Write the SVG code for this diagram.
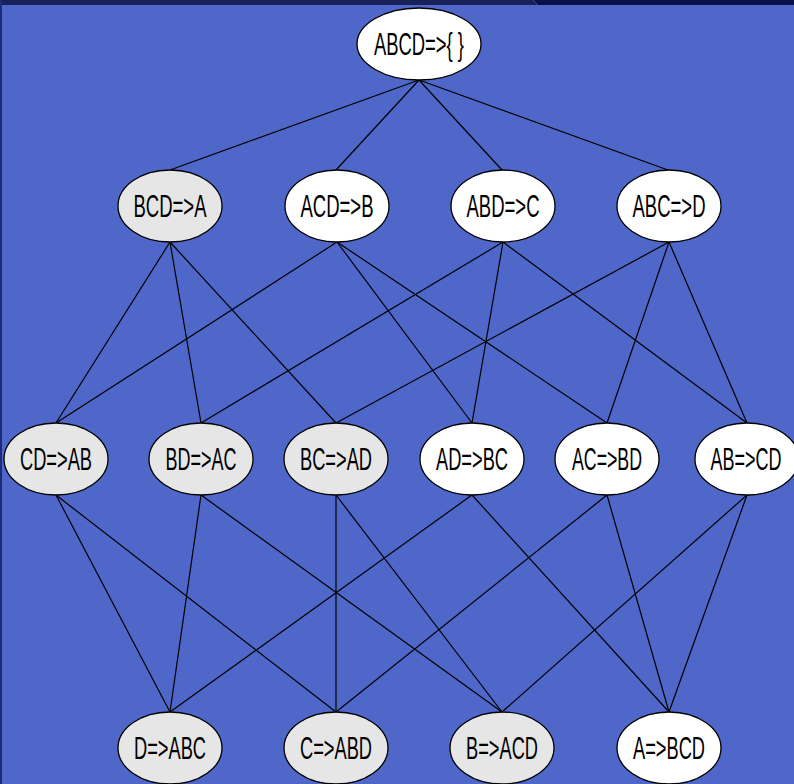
<svg xmlns="http://www.w3.org/2000/svg" width="794" height="784" viewBox="0 0 794 784">
  <style>
    .bg { fill: #4f67c9; }
    .edge { stroke: #000; stroke-width: 1.2; fill: none; }
    .node ellipse { stroke: #000; stroke-width: 1.3; }
    .on ellipse { fill: #ffffff; }
    .off ellipse { fill: #e6e6e6; }
    .node text { font-family: "Liberation Sans Narrow", "Liberation Sans", Arial, sans-serif; font-size: 31px; fill: #000; text-anchor: middle; }
  </style>

  <!-- slide background -->
  <rect class="bg" x="0" y="0" width="794" height="784"/>
  <rect x="0" y="0" width="794" height="5" fill="#18215a"/>
  <polygon points="533,0 794,0 794,5 538,5" fill="#06104a"/>
  <line x1="533" y1="0" x2="538" y2="5" stroke="#3a4580" stroke-width="1"/>
  <rect x="0" y="0" width="2" height="784" fill="#1d2b78"/>

  <!-- lattice edges -->
  <g id="connectors" class="edge">
    <!-- level 0 to level 1 -->
    <line x1="419" y1="80" x2="170" y2="170"/>
    <line x1="419" y1="80" x2="336" y2="170"/>
    <line x1="419" y1="80" x2="502" y2="170"/>
    <line x1="419" y1="80" x2="668" y2="170"/>
    <!-- level 1 to level 2 -->
    <line x1="170" y1="242" x2="56" y2="423"/>
    <line x1="170" y1="242" x2="201" y2="423"/>
    <line x1="170" y1="242" x2="336" y2="423"/>
    <line x1="337" y1="242" x2="56" y2="423"/>
    <line x1="337" y1="242" x2="472" y2="423"/>
    <line x1="337" y1="242" x2="607" y2="423"/>
    <line x1="503" y1="242" x2="201" y2="423"/>
    <line x1="503" y1="242" x2="472" y2="423"/>
    <line x1="503" y1="242" x2="747" y2="423"/>
    <line x1="669" y1="242" x2="336" y2="423"/>
    <line x1="669" y1="242" x2="607" y2="423"/>
    <line x1="669" y1="242" x2="747" y2="423"/>
    <!-- level 2 to level 3 -->
    <line x1="56" y1="495" x2="170" y2="712"/>
    <line x1="56" y1="495" x2="336" y2="712"/>
    <line x1="201" y1="495" x2="170" y2="712"/>
    <line x1="201" y1="495" x2="502" y2="712"/>
    <line x1="336" y1="495" x2="336" y2="712"/>
    <line x1="336" y1="495" x2="502" y2="712"/>
    <line x1="472" y1="495" x2="170" y2="712"/>
    <line x1="472" y1="495" x2="669" y2="712"/>
    <line x1="607" y1="495" x2="336" y2="712"/>
    <line x1="607" y1="495" x2="669" y2="712"/>
    <line x1="747" y1="495" x2="502" y2="712"/>
    <line x1="747" y1="495" x2="669" y2="712"/>
  </g>

  <!-- level 0 -->
  <g id="n-ABCD" class="node on">
    <ellipse cx="419" cy="44" rx="62" ry="36"/>
    <text x="419" y="55" textLength="90" lengthAdjust="spacingAndGlyphs">ABCD=&gt;{ }</text>
  </g>

  <!-- level 1 -->
  <g id="n-BCD-A" class="node off">
    <ellipse cx="170" cy="206" rx="52" ry="36"/>
    <text x="170" y="217" textLength="73" lengthAdjust="spacingAndGlyphs">BCD=&gt;A</text>
  </g>
  <g id="n-ACD-B" class="node on">
    <ellipse cx="337" cy="206" rx="52" ry="36"/>
    <text x="337" y="217" textLength="73" lengthAdjust="spacingAndGlyphs">ACD=&gt;B</text>
  </g>
  <g id="n-ABD-C" class="node on">
    <ellipse cx="503" cy="206" rx="52" ry="36"/>
    <text x="503" y="217" textLength="73" lengthAdjust="spacingAndGlyphs">ABD=&gt;C</text>
  </g>
  <g id="n-ABC-D" class="node on">
    <ellipse cx="669" cy="206" rx="52" ry="36"/>
    <text x="669" y="217" textLength="73" lengthAdjust="spacingAndGlyphs">ABC=&gt;D</text>
  </g>

  <!-- level 2 -->
  <g id="n-CD-AB" class="node off">
    <ellipse cx="56" cy="459" rx="52" ry="36"/>
    <text x="56" y="470" textLength="72" lengthAdjust="spacingAndGlyphs">CD=&gt;AB</text>
  </g>
  <g id="n-BD-AC" class="node off">
    <ellipse cx="201" cy="459" rx="52" ry="36"/>
    <text x="201" y="470" textLength="71" lengthAdjust="spacingAndGlyphs">BD=&gt;AC</text>
  </g>
  <g id="n-BC-AD" class="node off">
    <ellipse cx="336" cy="459" rx="52" ry="36"/>
    <text x="336" y="470" textLength="72" lengthAdjust="spacingAndGlyphs">BC=&gt;AD</text>
  </g>
  <g id="n-AD-BC" class="node on">
    <ellipse cx="472" cy="459" rx="52" ry="36"/>
    <text x="472" y="470" textLength="72" lengthAdjust="spacingAndGlyphs">AD=&gt;BC</text>
  </g>
  <g id="n-AC-BD" class="node on">
    <ellipse cx="607" cy="459" rx="52" ry="36"/>
    <text x="607" y="470" textLength="70" lengthAdjust="spacingAndGlyphs">AC=&gt;BD</text>
  </g>
  <g id="n-AB-CD" class="node on">
    <ellipse cx="747" cy="459" rx="52" ry="36"/>
    <text x="746" y="470" textLength="71" lengthAdjust="spacingAndGlyphs">AB=&gt;CD</text>
  </g>

  <!-- level 3 -->
  <g id="n-D-ABC" class="node off">
    <ellipse cx="170" cy="748" rx="52" ry="36"/>
    <text x="170" y="759" textLength="72" lengthAdjust="spacingAndGlyphs">D=&gt;ABC</text>
  </g>
  <g id="n-C-ABD" class="node off">
    <ellipse cx="336" cy="748" rx="52" ry="36"/>
    <text x="336" y="759" textLength="72" lengthAdjust="spacingAndGlyphs">C=&gt;ABD</text>
  </g>
  <g id="n-B-ACD" class="node off">
    <ellipse cx="502" cy="748" rx="52" ry="36"/>
    <text x="502" y="759" textLength="72" lengthAdjust="spacingAndGlyphs">B=&gt;ACD</text>
  </g>
  <g id="n-A-BCD" class="node on">
    <ellipse cx="669" cy="748" rx="52" ry="36"/>
    <text x="669" y="759" textLength="72" lengthAdjust="spacingAndGlyphs">A=&gt;BCD</text>
  </g>
</svg>
